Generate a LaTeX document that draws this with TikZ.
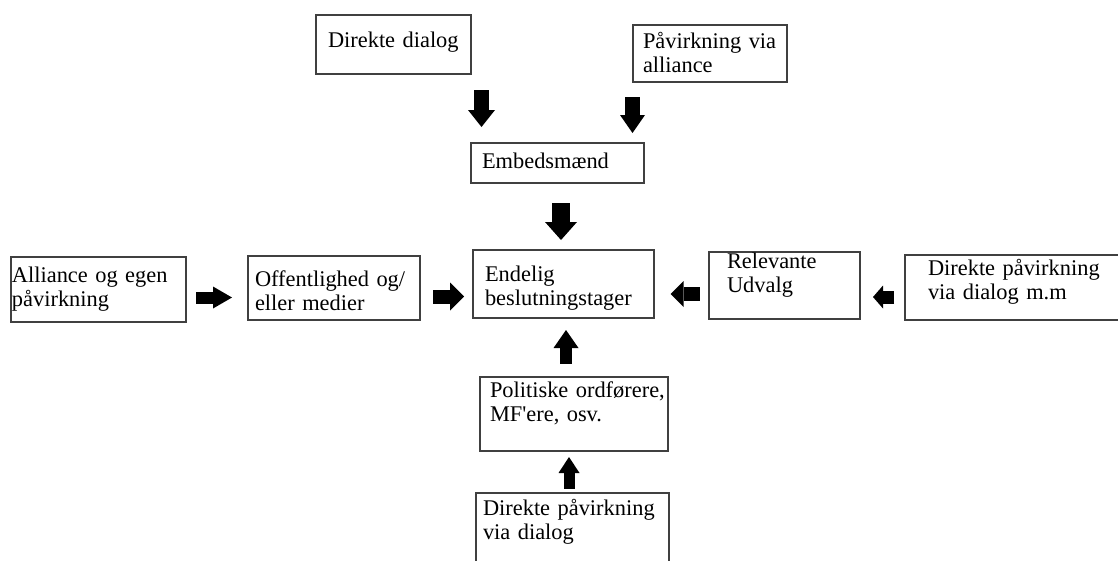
\documentclass[tikz,border=0pt]{standalone}
\usepackage{fontspec}
\setmainfont{Liberation Serif}
\usepackage{tikz}
\usetikzlibrary{arrows.meta}

\begin{document}
\begin{tikzpicture}[
        x = 1pt, y = -1pt,
        box/.style = {draw = black!75, line width = 1.2pt, anchor = north west,
            outer sep = 0pt, inner ysep = 0pt, align = left,
            font = \fontsize{22.4}{24}\selectfont},
        pad/.style n args = {4}{text width = #1, inner xsep = #2, text height = #3, text depth = #4},
        blk/.style n args = {3}{line width = #1, -{Triangle[width = #2, length = #3, line width = 0pt]}}
        ]
        \clip (0,0) rectangle (1118,560);
        \fill[white] (0,0) rectangle (1118,560);
        % boxes
        \node[box, pad = {131pt}{12pt}{32pt}{27pt}] (dd) at (316,15) {Direkte dialog};
        \node[box, pad = {134pt}{10pt}{23.5pt}{33.5pt}] (pav) at (633,25) {Påvirkning via\\alliance};
        \node[box, pad = {151pt}{11pt}{25pt}{15pt}] (emb) at (471,143) {Embedsmænd};
        \node[box, pad = {157pt}{12pt}{31pt}{37pt}] (end) at (473,250) {Endelig\\beslutningstager};
        \node[box, pad = {115pt}{18pt}{16pt}{51pt}] (rel) at (709,252) {Relevante\\Udvalg};
        \node[box, pad = {179pt}{23pt}{20pt}{45pt}] (dpm) at (905,255) {Direkte påvirkning\\via dialog m.m};
        \node[box, pad = {173pt}{1pt}{25pt}{40pt}] (ali) at (11,257) {Alliance og egen\\påvirkning};
        \node[box, pad = {158pt}{7pt}{30pt}{34pt}] (off) at (248,256) {Offentlighed og/\\eller medier};
        \node[box, pad = {168pt}{10pt}{20pt}{54pt}] (pol) at (480,377) {\mbox{Politiske ordførere,}\\MF\textquotesingle ere, osv.};
        \node[box, pad = {179pt}{7pt}{22pt}{65pt}] (dpd) at (476,493) {Direkte påvirkning\\via dialog};
        % arrows
        \draw[blk = {15pt}{27pt}{17pt}] ([xshift = 88pt, yshift = -16pt]dd.south) -- ([xshift = -76pt, yshift = 16pt]emb.north);
        \draw[blk = {15pt}{25pt}{18pt}] ([xshift = -77.5pt, yshift = -15pt]pav.south) -- ([xshift = 75pt, yshift = 10pt]emb.north);
        \draw[blk = {18pt}{32pt}{18pt}] ([xshift = 3.5pt, yshift = -20pt]emb.south) -- ([xshift = -2.5pt, yshift = 10pt]end.north);
        \draw[blk = {12pt}{22pt}{19pt}] ([xshift = 10pt, yshift = -8pt]ali.east) -- ([xshift = -16pt, yshift = -9.5pt]off.west);
        \draw[blk = {14pt}{28pt}{14pt}] ([xshift = 13pt, yshift = -8.5pt]off.east) -- ([xshift = -9pt, yshift = -12.5pt]end.west);
        \draw[blk = {14pt}{26pt}{13pt}] ([xshift = -9.5pt, yshift = -8.5pt]rel.west) -- ([xshift = 16.5pt, yshift = -10pt]end.east);
        \draw[blk = {13pt}{23pt}{10pt}] ([xshift = -11pt, yshift = -9.5pt]dpm.west) -- ([xshift = 13pt, yshift = -11.5pt]rel.east);
        \draw[blk = {12pt}{25pt}{18pt}] ([xshift = -8pt, yshift = 13.5pt]pol.north) -- ([xshift = 2.5pt, yshift = -12pt]end.south);
        \draw[blk = {11pt}{21pt}{16pt}] ([xshift = -3.5pt, yshift = 4.5pt]dpd.north) -- ([xshift = -5pt, yshift = -6pt]pol.south);
\end{tikzpicture}
\end{document}
